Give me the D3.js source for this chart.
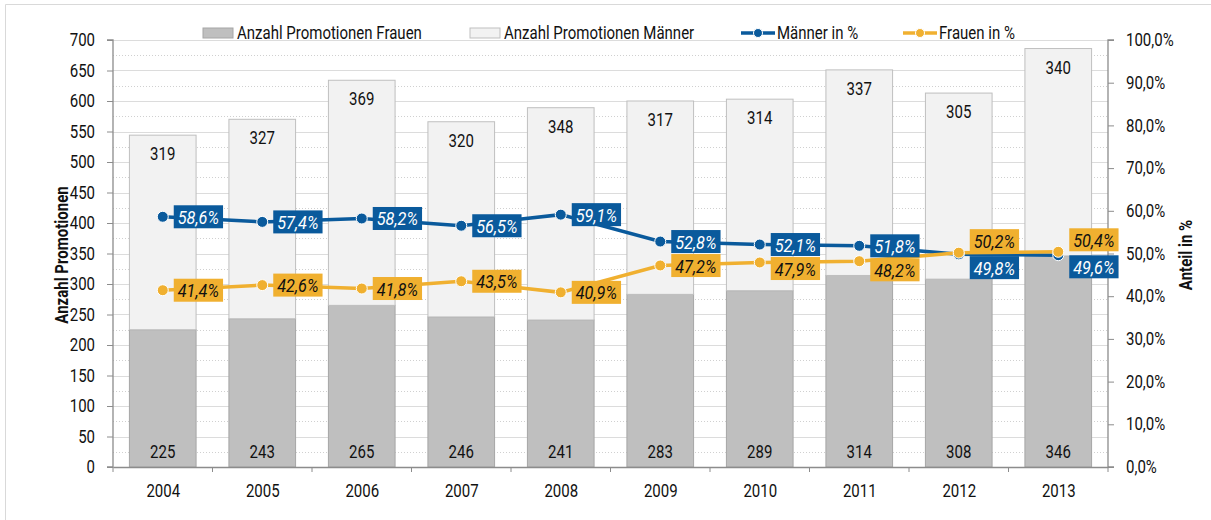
<!DOCTYPE html>
<html><head><meta charset="utf-8">
<script src="https://cdn.jsdelivr.net/npm/d3@7/dist/d3.min.js"></script>
<style>
body{margin:0;background:#fff;}
text{font-family:Roboto,"Liberation Sans",sans-serif;}
</style></head><body>
<svg id="c" width="1211" height="520"></svg>
<script>
const years = ["2004","2005","2006","2007","2008","2009","2010","2011","2012","2013"];
const frauen = [225,243,265,246,241,283,289,314,308,346];
const maenner = [319,327,369,320,348,317,314,337,305,340];
const maennerPct = [58.6,57.4,58.2,56.5,59.1,52.8,52.1,51.8,49.8,49.6];
const frauenPct = [41.4,42.6,41.8,43.5,40.9,47.2,47.9,48.2,50.2,50.4];
const leftTicks = d3.range(0,701,50);
const rightTicks = d3.range(0,101,10);

const svg = d3.select("#c");
const L=113, R=1108, T=40, B=467;
const x = d3.scaleBand().domain(years).range([L,R]).paddingInner(0.33).paddingOuter(0.165);
const xc = d3.scalePoint().domain(years).range([L,R]).padding(0.5);
const y = d3.scaleLinear().domain([0,700]).range([B,T]);
const yp = d3.scaleLinear().domain([0,100]).range([B,T]);
const FS = 15;
const K = 1.17; // glyph height factor to mimic a condensed face

// outer border
svg.append("path").attr("d","M5.5,525 V4.5 H1220").attr("fill","none").attr("stroke","#d9d9d9");

// grid
const g = svg.append("g");
d3.range(25,700,50).forEach(v=>{
  g.append("line").attr("x1",L).attr("x2",R).attr("y1",Math.round(y(v))+0.5).attr("y2",Math.round(y(v))+0.5)
   .attr("stroke","#d0d0d0").attr("stroke-dasharray","1,2");
});
leftTicks.filter(v=>v>0).forEach(v=>{
  g.append("line").attr("x1",L).attr("x2",R).attr("y1",Math.round(y(v))+0.5).attr("y2",Math.round(y(v))+0.5)
   .attr("stroke","#dcdcdc").attr("stroke-width",1.2);
});

// bars
const bars = svg.append("g");
years.forEach((yr,i)=>{
  bars.append("rect").attr("x",x(yr)).attr("width",x.bandwidth())
    .attr("y",y(frauen[i])).attr("height",B-y(frauen[i]))
    .attr("fill","#bfbfbf").attr("stroke","#a6a6a6").attr("stroke-width",1);
  bars.append("rect").attr("x",x(yr)).attr("width",x.bandwidth())
    .attr("y",y(frauen[i]+maenner[i])).attr("height",y(frauen[i])-y(frauen[i]+maenner[i]))
    .attr("fill","#f2f2f2").attr("stroke","#bfbfbf").attr("stroke-width",1);
  bars.append("text").attr("x",xc(yr)).attr("y",B-9).attr("text-anchor","middle")
    .attr("font-size",FS).attr("fill","#111").text(frauen[i]);
  bars.append("text").attr("x",xc(yr)).attr("y",y(frauen[i]+maenner[i])+25).attr("text-anchor","middle")
    .attr("font-size",FS).attr("fill","#111").text(maenner[i]);
});

// axes
const axL = svg.append("g").attr("transform",`translate(${L},0)`)
  .call(d3.axisLeft(y).tickValues(leftTicks).tickSize(6).tickPadding(12));
const axR = svg.append("g").attr("transform",`translate(${R},0)`)
  .call(d3.axisRight(yp).tickValues(rightTicks).tickSize(6).tickPadding(12)
  .tickFormat(d=>d3.format(".1f")(d).replace(".",",")+"%"));
const axB = svg.append("g").attr("transform",`translate(0,${B})`)
  .call(d3.axisBottom(xc).tickSize(0).tickPadding(18));
[axL,axR,axB].forEach(a=>{
  a.selectAll("path").attr("stroke","#8c8c8c").attr("stroke-width",1.3);
  a.selectAll("line").attr("stroke","#8c8c8c");
  a.selectAll("text").attr("font-size",FS).attr("fill","#111")
   .attr("font-family",'Roboto,"Liberation Sans",sans-serif');
});
axR.select("path").attr("d",`M6,${T}H0V${B}H6`);
axL.select("path").attr("d",`M-6,${T}H0V${B}H-6`);
// bottom tick marks at band boundaries
const bt = svg.append("g");
years.forEach((yr,i)=>{
  const bx = L + i*(R-L)/years.length;
  bt.append("line").attr("x1",bx).attr("x2",bx).attr("y1",B).attr("y2",B+5).attr("stroke","#8c8c8c");
});
bt.append("line").attr("x1",R).attr("x2",R).attr("y1",B).attr("y2",B+5).attr("stroke","#8c8c8c");

// axis titles
svg.append("text").attr("transform","translate(68,255) rotate(-90)").attr("text-anchor","middle")
  .attr("font-size",15).attr("font-weight","bold").attr("fill","#111").text("Anzahl Promotionen");
svg.append("text").attr("transform","translate(1192,255) rotate(-90)").attr("text-anchor","middle")
  .attr("font-size",15).attr("font-weight","bold").attr("fill","#111").text("Anteil in %");

// lines
const BLUE="#0a5a9c", ORANGE="#f0b030";
const line = d3.line().x((d,i)=>xc(years[i])).y(d=>yp(d));
svg.append("path").datum(maennerPct).attr("d",line).attr("fill","none").attr("stroke",BLUE).attr("stroke-width",3.5);
svg.append("path").datum(frauenPct).attr("d",line).attr("fill","none").attr("stroke",ORANGE).attr("stroke-width",3.5);
[[maennerPct,BLUE],[frauenPct,ORANGE]].forEach(([arr,col])=>{
  arr.forEach((v,i)=>{
    svg.append("circle").attr("cx",xc(years[i])).attr("cy",yp(v)).attr("r",5.5)
      .attr("fill",col).attr("stroke","#fff").attr("stroke-width",1);
  });
});

// data labels
const BH = 23;
const labels = svg.append("g");
function lbl(px,cy,txt,bg,fg){
  const gg = labels.append("g");
  const t = gg.append("text").attr("x",px+15).attr("font-size",16.3)
    .attr("font-style","italic").attr("fill",fg).text(txt);
  const w = t.node().getComputedTextLength();
  t.attr("font-size",16.3*K).attr("textLength",w).attr("lengthAdjust","spacingAndGlyphs")
   .attr("y",cy+7).attr("class","done");
  gg.insert("rect","text").attr("x",px+11).attr("y",cy-BH/2).attr("width",w+8).attr("height",BH).attr("fill",bg);
}
const fmt = v=>d3.format(".1f")(v).replace(".",",")+"%";
years.forEach((yr,i)=>{
  const px = xc(yr);
  let cm = yp(maennerPct[i]), cf = yp(frauenPct[i]);
  if (maennerPct[i] < frauenPct[i]) {
    cf = cf - 12; cm = cf + 27;
  } else if (cf - cm < BH + 1) {
    cf = cm + BH + 1;
  }
  lbl(px, cm, fmt(maennerPct[i]), BLUE, "#fff");
  lbl(px, cf, fmt(frauenPct[i]), ORANGE, "#111");
});

// legend
const lg = svg.append("g");
function legRect(x0,fill,stroke,txt){
  lg.append("rect").attr("x",x0).attr("y",28).attr("width",30).attr("height",10).attr("fill",fill).attr("stroke",stroke);
  lg.append("text").attr("x",x0+34).attr("y",38.5).attr("font-size",FS).attr("fill","#111").text(txt);
}
function legLine(x0,col,txt){
  lg.append("line").attr("x1",x0).attr("x2",x0+34).attr("y1",33).attr("y2",33).attr("stroke",col).attr("stroke-width",3.5);
  lg.append("circle").attr("cx",x0+17).attr("cy",33).attr("r",4.5).attr("fill",col).attr("stroke","#fff");
  lg.append("text").attr("x",x0+36).attr("y",38.5).attr("font-size",FS).attr("fill","#111").text(txt);
}
legRect(203,"#bfbfbf","#a6a6a6","Anzahl Promotionen Frauen");
legRect(470,"#f2f2f2","#bfbfbf","Anzahl Promotionen Männer");
legLine(741,BLUE,"Männer in %");
legLine(903,ORANGE,"Frauen in %");

// emulate condensed typeface: taller glyphs, same width
svg.selectAll("text:not(.done)").each(function(){
  const t = d3.select(this);
  const w = this.getComputedTextLength();
  const fs = parseFloat(t.attr("font-size")) || FS;
  t.attr("font-size", fs*K).attr("textLength", w).attr("lengthAdjust","spacingAndGlyphs");
});
</script></body></html>
